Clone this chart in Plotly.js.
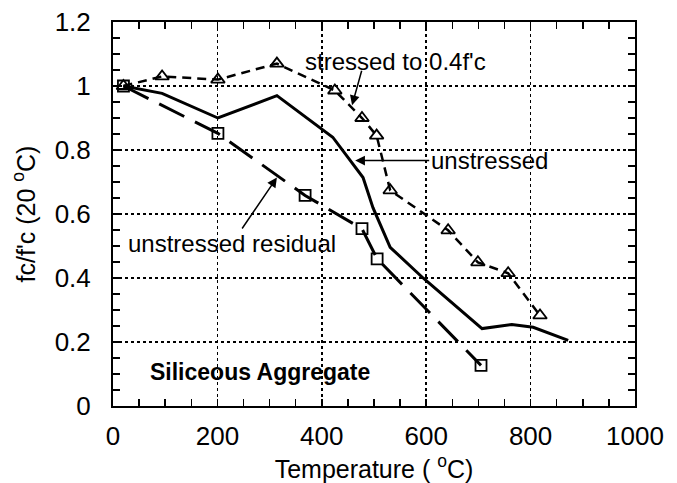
<!DOCTYPE html>
<html>
<head>
<meta charset="utf-8">
<script src="https://cdn.plot.ly/plotly-3.0.1.min.js"></script>
<style>html,body{margin:0;padding:0;background:#fff;}#chart{width:677px;height:483px;}</style>
</head>
<body>
<div id="chart"></div>
<script>
// Data
const unstressedT = [20, 94, 201, 314, 421, 479, 498, 531, 594, 707, 764, 805, 872];
const unstressedR = [1.0, 0.977, 0.90, 0.97, 0.84, 0.714, 0.62, 0.496, 0.40, 0.242, 0.255, 0.246, 0.205];

const stressedT = [20, 94, 201, 314, 425, 477, 505, 531, 642, 699, 757, 818];
const stressedR = [1.0, 1.03, 1.02, 1.07, 0.986, 0.90, 0.845, 0.674, 0.549, 0.449, 0.415, 0.283];

const residualT = [20, 201, 368, 477, 506, 705];
const residualR = [1.0, 0.852, 0.658, 0.554, 0.46, 0.127];

const xTicks = [0, 200, 400, 600, 800, 1000];
const yTicks = [0, 0.2, 0.4, 0.6, 0.8, 1, 1.2];
const yTickText = ["0", "0.2", "0.4", "0.6", "0.8", "1", "1.2"];

const FONT = "Liberation Sans, Arial, Helvetica, sans-serif";

const traces = [
  {x: unstressedT, y: unstressedR, mode: "lines", type: "scatter",
   line: {color: "#000", width: 3}},
  {x: stressedT, y: stressedR, mode: "lines+markers", type: "scatter",
   line: {color: "#000", width: 2.5, dash: "9px,6px"},
   marker: {symbol: "triangle-up-open", size: 12, color: "#000", line: {width: 1.8}}},
  {x: residualT, y: residualR, mode: "lines+markers", type: "scatter",
   line: {color: "#000", width: 3, dash: "28px,12px"},
   marker: {symbol: "square-open", size: 11, color: "#000", line: {width: 1.8}}}
];

const axisCommon = {
  showline: true, linecolor: "#000", linewidth: 2, mirror: "allticks",
  ticks: "inside", ticklen: 7, tickwidth: 1.5, tickcolor: "#000",
  showgrid: true, gridcolor: "#000", gridwidth: 1.5, griddash: "dot",
  zeroline: false, tickfont: {family: FONT, size: 26, color: "#000"}
};

const layout = {
  width: 677, height: 483,
  margin: {l: 113, r: 42, t: 22, b: 77},
  paper_bgcolor: "#fff", plot_bgcolor: "#fff",
  showlegend: false,
  font: {family: FONT, color: "#000"},
  xaxis: Object.assign({}, axisCommon, {
    range: [0, 1000], tickvals: xTicks, ticklabelstandoff: 6,
    minor: {dtick: 50, ticks: "inside", ticklen: 7, tickwidth: 1.5, tickcolor: "#000", showgrid: false},
    title: {text: "Temperature ( <sup>o</sup>C)", font: {family: FONT, size: 25, color: "#000"}, standoff: 14}
  }),
  yaxis: Object.assign({}, axisCommon, {
    range: [0, 1.2], tickvals: yTicks, ticktext: yTickText, ticklabelstandoff: 15,
    minor: {dtick: 0.05, ticks: "inside", ticklen: 7, tickwidth: 1.5, tickcolor: "#000", showgrid: false},
    title: {text: "fc/f'c (20 <sup>o</sup>C)", font: {family: FONT, size: 25, color: "#000"}, standoff: 12}
  }),
  annotations: [
    {x: 458, y: 0.94, ax: 10, ay: -36, text: "", showarrow: true,
     arrowhead: 2, arrowsize: 1.3, arrowwidth: 1.5, arrowcolor: "#000"},
    {x: 542, y: 1.077, text: "stressed to 0.4f'c", showarrow: false,
     font: {family: FONT, size: 24, color: "#000"}},
    {x: 464, y: 0.767, ax: 134, ay: 0, text: "unstressed", showarrow: true,
     arrowhead: 2, arrowsize: 1.3, arrowwidth: 1.5, arrowcolor: "#000",
     font: {family: FONT, size: 24, color: "#000"}},
    {x: 314, y: 0.714, ax: -45, ay: 66, text: "unstressed residual", showarrow: true,
     arrowhead: 2, arrowsize: 1.3, arrowwidth: 1.5, arrowcolor: "#000",
     font: {family: FONT, size: 24, color: "#000"}},
    {x: 282, y: 0.105, text: "<b>Siliceous Aggregate</b>", showarrow: false,
     font: {family: FONT, size: 23, color: "#000"}}
  ]
};

Plotly.newPlot("chart", traces, layout, {displayModeBar: false, staticPlot: true});
</script>
</body>
</html>
